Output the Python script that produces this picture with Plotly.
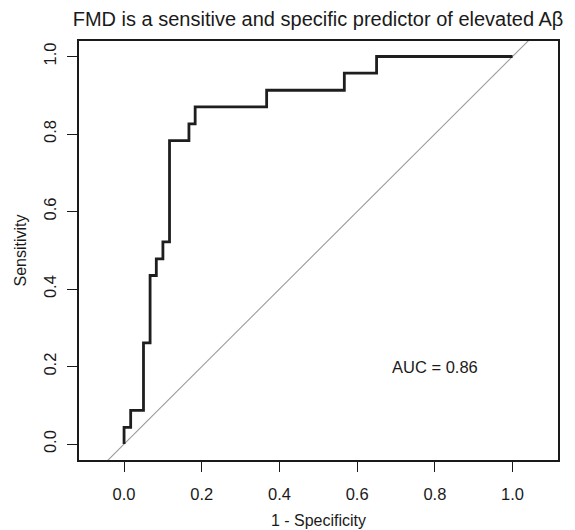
import plotly.graph_objects as go

# ROC step curve vertices (1 - specificity, sensitivity), drawn with 'hv' steps
fpr = [0.0, 0.0, 0.017, 0.05, 0.067, 0.083, 0.10, 0.117, 0.167, 0.183, 0.367, 0.567, 0.65, 1.0]
tpr = [0.0, 0.043, 0.087, 0.261, 0.435, 0.478, 0.522, 0.783, 0.826, 0.870, 0.913, 0.957, 1.0, 1.0]

tick_vals = [0.0, 0.2, 0.4, 0.6, 0.8, 1.0]
tick_text = ["0.0", "0.2", "0.4", "0.6", "0.8", "1.0"]

x_range = [-0.116, 1.117]
y_range = [-0.041, 1.040]

auc_label = "AUC = 0.86"
auc_pos = (0.80, 0.20)

title = "FMD is a sensitive and specific predictor of elevated Aβ"

FONT = "Liberation Sans, Arial, sans-serif"
INK = "#1a1a1a"

fig = go.Figure()

# reference diagonal y = x across the full plotting region
diag = [min(x_range[0], y_range[0]) - 0.1, max(x_range[1], y_range[1]) + 0.1]
fig.add_trace(go.Scatter(x=diag, y=diag, mode="lines",
                         line=dict(color="#9a9a9a", width=1.1),
                         hoverinfo="skip", showlegend=False))

fig.add_trace(go.Scatter(x=fpr, y=tpr, mode="lines",
                         line=dict(color="#1e1e1e", width=2.8, shape="hv"),
                         showlegend=False))

fig.add_annotation(x=auc_pos[0], y=auc_pos[1], text=auc_label, showarrow=False,
                   xref="x", yref="y", font=dict(family=FONT, size=16.5, color=INK))

axis_common = dict(
    showgrid=False, zeroline=False, automargin=False,
    showline=True, mirror=True, linecolor=INK, linewidth=1.6,
    ticks="outside", ticklen=10, tickwidth=1.4, tickcolor=INK,
    tickvals=tick_vals, ticktext=tick_text,
    tickfont=dict(family=FONT, size=16.5, color=INK),
)

# the page body adds an 8px offset; margins compensate for it
fig.update_layout(
    width=575, height=530,
    paper_bgcolor="white", plot_bgcolor="white",
    margin=dict(l=71, r=25, t=33, b=78, autoexpand=False),
    title=dict(text=title, x=310 / 575, xanchor="center", y=1 - 11 / 530, yanchor="middle",
               font=dict(family=FONT, size=20, color=INK)),
    xaxis=dict(range=x_range, ticklabelstandoff=8,
               title=dict(text="1 - Specificity", standoff=13,
                          font=dict(family=FONT, size=16, color=INK)),
               **axis_common),
    yaxis=dict(range=y_range, tickangle=-90, ticklabelstandoff=5,
               title=dict(text="Sensitivity", standoff=10,
                          font=dict(family=FONT, size=16, color=INK)),
               **axis_common),
)

fig.write_html("out.html")
